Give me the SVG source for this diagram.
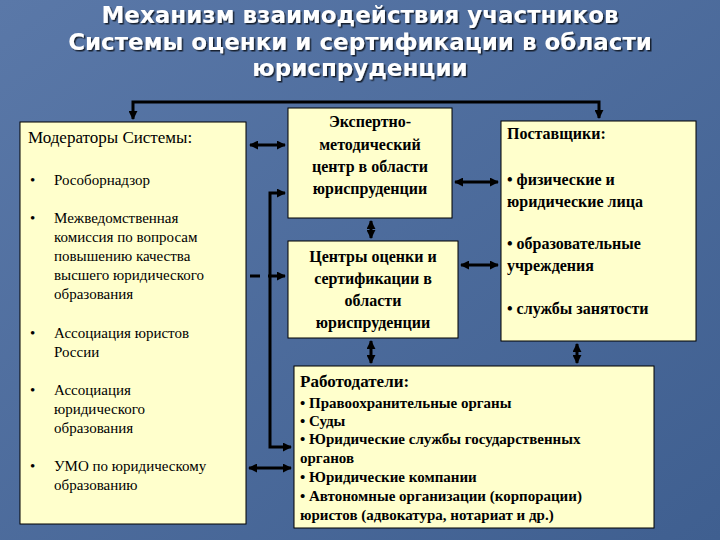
<svg xmlns="http://www.w3.org/2000/svg" width="720" height="540" viewBox="0 0 720 540">
<defs>
<linearGradient id="bg" x1="0" y1="0" x2="1" y2="1"><stop offset="0" stop-color="#5a78a8"/><stop offset="1" stop-color="#3f5f90"/></linearGradient>
<marker id="ah" viewBox="0 0 10 10" refX="9" refY="5" markerWidth="3" markerHeight="3" orient="auto-start-reverse"><path d="M0,0 L10,5 L0,10 z" fill="#000"/></marker>
<filter id="sh"><feDropShadow dx="1.5" dy="1.5" stdDeviation="0.5" flood-color="#000" flood-opacity="0.7"/></filter>
</defs>
<style>
.box{fill:#ffffcc;stroke:#000;stroke-width:1}
.t{font-family:"Liberation Serif",serif;font-size:16px;font-weight:bold;fill:#000}
.s{font-size:15px}
.n{font-family:"Liberation Serif",serif;font-size:15px;fill:#000}
.h{font-size:17px}
.ti{font-family:"DejaVu Sans",sans-serif;font-size:23px;font-weight:bold;fill:#fff;text-anchor:middle;filter:url(#sh)}
.c{fill:none;stroke:#000;stroke-width:3}
.m{text-anchor:middle}
</style>
<rect width="720" height="540" fill="url(#bg)"/>
<text class="ti"><tspan x="360" y="23">Механизм взаимодействия участников</tspan><tspan x="360" y="50">Системы оценки и сертификации в области</tspan><tspan x="360" y="76">юриспруденции</tspan></text>
<g id="connectors">
<path class="c" d="M133,119 V102 H599 V118" marker-start="url(#ah)" marker-end="url(#ah)"/>
<path class="c" d="M250,145 H285" marker-start="url(#ah)" marker-end="url(#ah)"/>
<path class="c" d="M455,182 H498" marker-start="url(#ah)" marker-end="url(#ah)"/>
<path class="c" d="M461,265 H498" marker-start="url(#ah)" marker-end="url(#ah)"/>
<path class="c" d="M371,221 V238" marker-start="url(#ah)" marker-end="url(#ah)"/>
<path class="c" d="M371,341 V363" marker-start="url(#ah)" marker-end="url(#ah)"/>
<path class="c" d="M577,344 V363" marker-start="url(#ah)" marker-end="url(#ah)"/>
<path class="c" d="M250,276 H260"/>
<path class="c" d="M268,276 H285" marker-end="url(#ah)"/>
<path class="c" d="M285,193 H270 V447 H291" marker-start="url(#ah)" marker-end="url(#ah)"/>
<path class="c" d="M249,468 H291" marker-start="url(#ah)" marker-end="url(#ah)"/>
</g>
<g id="moderators">
<rect class="box" x="20" y="122" width="226" height="402"/>
<text class="n h" x="28" y="143">Модераторы Системы:</text>
<text class="n"><tspan x="30" y="185">•</tspan><tspan x="54" y="185">Рособорнадзор</tspan>
<tspan x="30" y="223">•</tspan><tspan x="54" y="223">Межведомственная</tspan><tspan x="54" y="242">комиссия по  вопросам</tspan><tspan x="54" y="261">повышению качества</tspan><tspan x="54" y="280">высшего юридического</tspan><tspan x="54" y="299">образования</tspan>
<tspan x="30" y="338">•</tspan><tspan x="54" y="338">Ассоциация юристов</tspan><tspan x="54" y="357">России</tspan>
<tspan x="30" y="395">•</tspan><tspan x="54" y="395">Ассоциация</tspan><tspan x="54" y="414">юридического</tspan><tspan x="54" y="433">образования</tspan>
<tspan x="30" y="471">•</tspan><tspan x="54" y="471">УМО по юридическому</tspan><tspan x="54" y="490">образованию</tspan></text>
</g>
<g id="expert">
<rect class="box" x="288" y="108" width="164" height="110"/>
<text class="t m"><tspan x="370" y="127">Экспертно-</tspan><tspan x="370" y="150">методический</tspan><tspan x="370" y="172">центр в области</tspan><tspan x="370" y="194">юриспруденции</tspan></text>
</g>
<g id="centers">
<rect class="box" x="288" y="241" width="170" height="97"/>
<text class="t m"><tspan x="373" y="262">Центры оценки и</tspan><tspan x="373" y="284">сертификации в</tspan><tspan x="373" y="306">области</tspan><tspan x="373" y="328">юриспруденции</tspan></text>
</g>
<g id="suppliers">
<rect class="box" x="501" y="121" width="195" height="220"/>
<text class="t"><tspan x="507" y="139">Поставщики:</tspan><tspan x="507" y="185">• физические и</tspan><tspan x="507" y="207">юридические лица</tspan><tspan x="507" y="249">• образовательные</tspan><tspan x="507" y="271">учреждения</tspan><tspan x="507" y="314">• службы занятости</tspan></text>
</g>
<g id="employers">
<rect class="box" x="294" y="366" width="360" height="162"/>
<text class="t s"><tspan x="300" y="387" class="h">Работодатели:</tspan><tspan x="300" y="408">• Правоохранительные органы</tspan><tspan x="300" y="426">• Суды</tspan><tspan x="300" y="444">• Юридические службы государственных</tspan><tspan x="300" y="463">органов</tspan><tspan x="300" y="482">• Юридические компании</tspan><tspan x="300" y="501">• Автономные организации (корпорации)</tspan><tspan x="300" y="520">юристов (адвокатура, нотариат и др.)</tspan></text>
</g>
</svg>
